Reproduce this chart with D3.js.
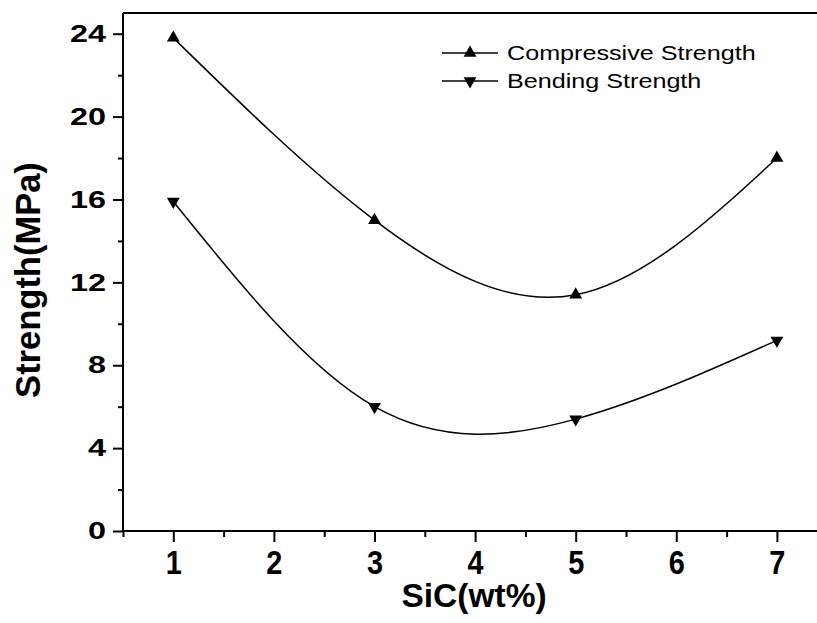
<!DOCTYPE html>
<html>
<head>
<meta charset="utf-8">
<script src="https://cdn.jsdelivr.net/npm/d3@7"></script>
<style>
  body { margin: 0; background: #fff; }
  svg { display: block; }
  .axis path, .axis line { stroke: #000; stroke-width: 2; }
</style>
</head>
<body>
<div id="chart"></div>
<script>
var sic = [1, 3, 5, 7];
var compressive = [23.8, 15.0, 11.4, 18.0];
var bending = [15.9, 6.0, 5.4, 9.2];
var seriesNames = ["Compressive Strength", "Bending Strength"];
var xMajor = [1, 2, 3, 4, 5, 6, 7];
var xMinor = [0.5, 1.5, 2.5, 3.5, 4.5, 5.5, 6.5];
var yMajor = [0, 4, 8, 12, 16, 20, 24];
var yMinor = [2, 6, 10, 14, 18, 22];

function init(){
  var w = 817, h = 623;
  var left = 123, top = 13, bottom = 531;

  var svg = d3.select("#chart").append("svg")
    .attr("width", w).attr("height", h)
    .style("font-family", "'Liberation Sans', Arial, sans-serif");

  var xScale = d3.scaleLinear().domain([0.5, 7.5]).range([left, left + 7 * 100.6]);
  var yScale = d3.scaleLinear().domain([0, 25]).range([bottom, top]);

  // top frame line (the right side is cut by the picture)
  svg.append("line")
    .attr("x1", left).attr("x2", w)
    .attr("y1", top).attr("y2", top)
    .attr("stroke", "#000").attr("stroke-width", 2);

  // minor ticks first
  svg.append("g").attr("class", "axis")
    .attr("transform", "translate(0," + bottom + ")")
    .call(d3.axisBottom(xScale).tickValues(xMinor).tickSize(6).tickFormat(""))
    .select(".domain").remove();
  svg.append("g").attr("class", "axis")
    .attr("transform", "translate(" + left + ",0)")
    .call(d3.axisLeft(yScale).tickValues(yMinor).tickSize(5).tickFormat(""))
    .select(".domain").remove();

  // x axis
  var gx = svg.append("g").attr("class", "axis")
    .attr("transform", "translate(0," + bottom + ")")
    .call(d3.axisBottom(xScale).tickValues(xMajor).tickFormat(d3.format("d"))
      .tickSize(11).tickSizeOuter(0));
  gx.select(".domain").attr("d", "M" + left + ",0H" + w);
  gx.selectAll("text")
    .attr("y", 0).attr("dy", null)
    .attr("transform", "translate(0,43) scale(0.85,1)")
    .attr("font-size", 34).attr("font-weight", "bold")
    .attr("fill", "#000");

  // y axis
  var gy = svg.append("g").attr("class", "axis")
    .attr("transform", "translate(" + left + ",0)")
    .call(d3.axisLeft(yScale).tickValues(yMajor).tickSize(10).tickSizeOuter(0));
  gy.select(".domain").attr("d", "M0," + bottom + "V" + top);
  gy.selectAll("text")
    .attr("x", 0)
    .attr("transform", "translate(-17,0) scale(1.35,1)")
    .attr("font-size", 24).attr("font-weight", "bold")
    .attr("fill", "#000");

  // axis titles
  svg.append("text")
    .attr("x", 474).attr("y", 607)
    .attr("text-anchor", "middle")
    .attr("font-size", 33.5).attr("font-weight", "bold")
    .text("SiC(wt%)");
  svg.append("text")
    .attr("transform", "translate(40,280) rotate(-90)")
    .attr("text-anchor", "middle")
    .attr("font-size", 34.5).attr("font-weight", "bold")
    .text("Strength(MPa)");

  var line = d3.line()
    .x(function(d) { return xScale(d[0]); })
    .y(function(d) { return yScale(d[1]); })
    .curve(d3.curveNatural);

  var tri = d3.symbol().type(d3.symbolTriangle).size(72);

  var series = [
    { name: seriesNames[0], values: compressive, rot: 0 },
    { name: seriesNames[1], values: bending, rot: 180 }
  ];

  series.forEach(function(s, i) {
    var pts = sic.map(function(x, j) { return [x, s.values[j]]; });
    svg.append("path")
      .datum(pts)
      .attr("fill", "none")
      .attr("stroke", "#000")
      .attr("stroke-width", 1.5)
      .attr("d", line);
    svg.selectAll(".m" + i)
      .data(pts)
      .enter().append("path")
      .attr("class", "m" + i)
      .attr("d", tri)
      .attr("fill", "#000")
      .attr("transform", function(d) {
        return "translate(" + xScale(d[0]) + "," + yScale(d[1]) + ") rotate(" + s.rot + ")";
      });

    // legend row
    var ly = 53 + i * 28;
    var lg = svg.append("g").attr("transform", "translate(442," + ly + ")");
    lg.append("line").attr("x1", 0).attr("x2", 56)
      .attr("stroke", "#000").attr("stroke-width", 1.5);
    lg.append("path").attr("d", tri).attr("fill", "#000")
      .attr("transform", "translate(28,0) rotate(" + s.rot + ")");
    lg.append("text")
      .attr("transform", "translate(65,7) scale(1.29,1)")
      .attr("font-size", 19.5)
      .text(s.name);
  });
}

window.onload = init;
</script>
</body>
</html>
